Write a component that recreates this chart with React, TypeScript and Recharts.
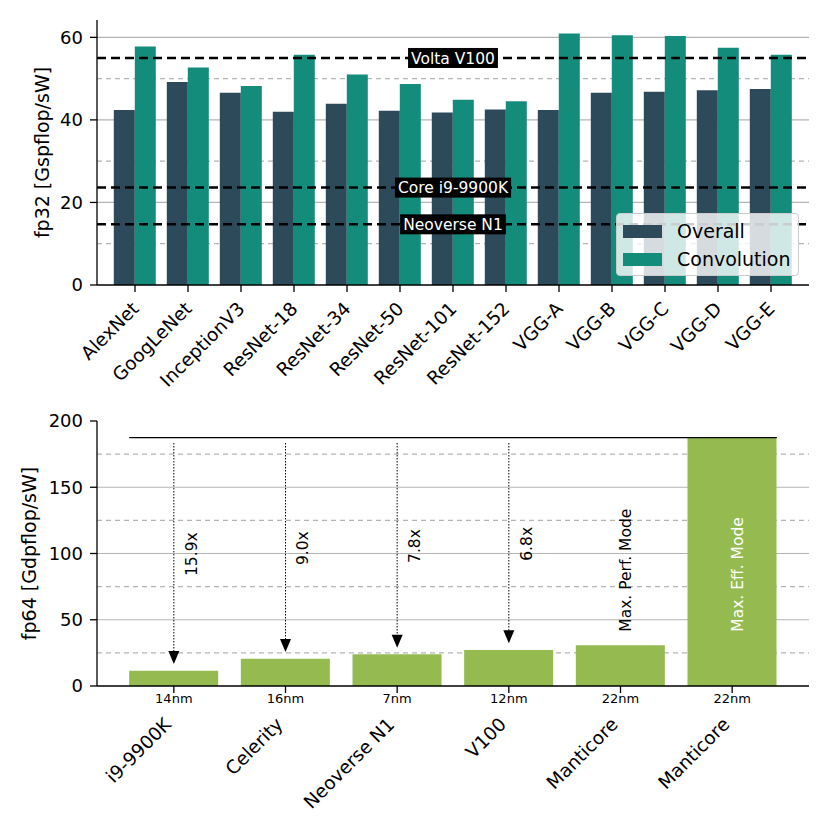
import React from 'react';
import {
  BarChart,
  Bar,
  XAxis,
  YAxis,
  CartesianGrid,
  ReferenceLine,
  ReferenceDot,
  Legend
} from 'recharts';

const FONT = '"DejaVu Sans", sans-serif';

// top panel: fp32 efficiency per network
const networks = ['AlexNet', 'GoogLeNet', 'InceptionV3', 'ResNet-18', 'ResNet-34', 'ResNet-50', 'ResNet-101', 'ResNet-152', 'VGG-A', 'VGG-B', 'VGG-C', 'VGG-D', 'VGG-E'];
const overall = [42.4, 49.2, 46.6, 42.0, 43.9, 42.2, 41.8, 42.5, 42.4, 46.6, 46.8, 47.2, 47.5];
const convolution = [57.8, 52.7, 48.2, 55.8, 51.0, 48.7, 44.9, 44.5, 60.9, 60.5, 60.3, 57.5, 55.8];
const fp32Ticks = [0, 20, 40, 60];
const fp32Minor = [10, 30, 50];
const refNames = ['Volta V100', 'Core i9-9900K', 'Neoverse N1'];
const refValues = [55.0, 23.6, 14.7];

// bottom panel: fp64 efficiency per chip
const chips = ['i9-9900K', 'Celerity', 'Neoverse N1', 'V100', 'Manticore', 'Manticore'];
const nodes = ['14nm', '16nm', '7nm', '12nm', '22nm', '22nm'];
const fp64 = [11.6, 20.6, 23.9, 27.2, 30.7, 187.4];
const speedups = ['15.9x', '9.0x', '7.8x', '6.8x'];
const modeLabels = ['Max. Perf. Mode', 'Max. Eff. Mode'];
const fp64Ticks = [0, 50, 100, 150, 200];
const fp64Minor = [25, 75, 125, 175];

const C_OVERALL = '#2d4a5a';
const C_CONV = '#148c7c';
const C_GREEN = '#94ba50';
const GRID = '#b4b4b4';

const fp32Data = networks.map((name, i) => ({ name, overall: overall[i], conv: convolution[i] }));
const fp64Data = chips.map((name, i) => ({ id: 'c' + i, name, value: fp64[i] }));
const fp64Max = Math.max(...fp64);

const measure = (s: string, font: string) => {
  const ctx = document.createElement('canvas').getContext('2d');
  if (!ctx) return s.length * 9;
  ctx.font = font;
  return ctx.measureText(s).width;
};

const RefLabel = (props: any) => {
  const { viewBox, text } = props;
  const cx = viewBox.x + viewBox.width / 2;
  const cy = viewBox.y;
  const w = measure(text, `15.5px ${FONT}`) + 6;
  return (
    <g>
      <rect x={cx - w / 2} y={cy - 10} width={w} height={20} fill="#000" />
      <text x={cx} y={cy} dy="0.36em" textAnchor="middle" fill="#fff" fontSize={15.5} fontFamily={FONT}>
        {text}
      </text>
    </g>
  );
};

const NetTick = (props: any) => {
  const { x, y, payload } = props;
  const ax = x - 1;
  const ay = y + 10;
  return (
    <text x={ax} y={ay} dy="0.45em" textAnchor="end" transform={`rotate(-45, ${ax}, ${ay})`} fontSize={18.5} fontFamily={FONT} fill="#000">
      {payload.value}
    </text>
  );
};

const ChipTick = (props: any) => {
  const { x, y, payload } = props;
  const i = Number(String(payload.value).slice(1));
  const ax = x - 11;
  const ay = y + 21;
  return (
    <g>
      <text x={x} y={y + 8} textAnchor="middle" fontSize={13} fontFamily={FONT} fill="#000">
        {nodes[i]}
      </text>
      <text x={ax} y={ay} dy="0.73em" textAnchor="end" transform={`rotate(-45, ${ax}, ${ay})`} fontSize={18.5} fontFamily={FONT} fill="#000">
        {chips[i]}
      </text>
    </g>
  );
};

const AxisTitle = (props: any) => {
  const { viewBox, text, dx } = props;
  const x = viewBox.x + dx;
  const y = viewBox.y + viewBox.height / 2;
  return (
    <text x={x} y={y} textAnchor="middle" transform={`rotate(-90, ${x}, ${y})`} fontSize={19} fontFamily={FONT} fill="#000">
      {text}
    </text>
  );
};

const LegendBox = () => (
  <div
    style={{
      width: 181,
      height: 61,
      background: 'rgba(255,255,255,0.8)',
      border: '1px solid #cccccc',
      borderRadius: 4,
      fontFamily: FONT,
      fontSize: 19,
      position: 'relative'
    }}
  >
    {[['Overall', C_OVERALL], ['Convolution', C_CONV]].map(([label, color], i) => (
      <div key={label} style={{ position: 'absolute', left: 6, top: 4 + i * 28, height: 26, display: 'flex', alignItems: 'center' }}>
        <div style={{ width: 39, height: 13, background: color, marginRight: 15 }} />
        <span>{label}</span>
      </div>
    ))}
  </div>
);

const CapLine = (p: any) => {
  const band = (p.x2 - p.x1) / (fp64.length - 1);
  const ext = band * 0.4;
  return <line x1={p.x1 - ext} y1={p.y1} x2={p.x2 + ext} y2={p.y2} stroke="#000" strokeWidth={1.2} />;
};

const ArrowHead = (p: any) => (
  <polygon points={`${p.cx - 5.5},${p.cy - 13} ${p.cx + 5.5},${p.cy - 13} ${p.cx},${p.cy}`} fill="#000" />
);

const tickStyle = { fontSize: 18, fill: '#000', fontFamily: FONT };
const spine = { stroke: '#000', strokeWidth: 1.3 };

export default function App() {
  const arrowFrom = fp64Max - 4;
  const tipGap = 5;
  const modeY = 41;
  return (
    <div style={{ position: 'absolute', left: 0, top: 0, width: 830, height: 830, background: '#fff' }}>
      <BarChart
        width={830}
        height={400}
        data={fp32Data}
        margin={{ top: 20, right: 21, bottom: 20, left: 37 }}
        barCategoryGap="10%"
        barGap={0}
      >
        <CartesianGrid horizontalValues={fp32Ticks.slice(1)} vertical={false} stroke={GRID} strokeWidth={1.2} />
        <CartesianGrid horizontalValues={fp32Minor} vertical={false} stroke={GRID} strokeWidth={1.2} strokeDasharray="5 4" />
        <XAxis
          dataKey="name"
          interval={0}
          height={95}
          padding={{ left: 11.5, right: 11.5 }}
          tickSize={7}
          tickLine={spine}
          axisLine={spine}
          tick={<NetTick />}
        />
        <XAxis xAxisId="top" orientation="top" dataKey="name" height={0} tick={false} tickLine={false} axisLine={spine} />
        <YAxis
          domain={[0, 64.2]}
          ticks={fp32Ticks}
          width={60}
          tickSize={7}
          tickMargin={7}
          tick={tickStyle}
          tickLine={spine}
          axisLine={spine}
          label={<AxisTitle text="fp32 [Gspflop/sW]" dx={12} />}
        />
        <YAxis yAxisId="right" orientation="right" width={0} tick={false} tickLine={false} axisLine={spine} />
        <Bar dataKey="overall" name="Overall" fill={C_OVERALL} isAnimationActive={false} />
        <Bar dataKey="conv" name="Convolution" fill={C_CONV} isAnimationActive={false} />
        {refNames.map((n, i) => (
          <ReferenceLine
            key={n}
            y={refValues[i]}
            stroke="#000"
            strokeWidth={2.5}
            strokeDasharray="9 5"
            label={<RefLabel text={n} />}
          />
        ))}
        <Legend
          layout="vertical"
          align="center"
          verticalAlign="middle"
          content={<LegendBox />}
          wrapperStyle={{ left: 616, top: 213, width: 183, height: 63 }}
        />
      </BarChart>

      <BarChart
        width={830}
        height={430}
        data={fp64Data}
        margin={{ top: 21, right: 21, bottom: 20, left: 37 }}
        barCategoryGap="10%"
      >
        <CartesianGrid horizontalValues={fp64Ticks.slice(1, -1)} vertical={false} stroke={GRID} strokeWidth={1.2} />
        <CartesianGrid horizontalValues={fp64Minor} vertical={false} stroke={GRID} strokeWidth={1.2} strokeDasharray="5 4" />
        <XAxis
          dataKey="id"
          interval={0}
          height={124}
          padding={{ left: 21, right: 21 }}
          tickSize={7}
          tickLine={spine}
          axisLine={spine}
          tick={<ChipTick />}
        />
        <XAxis xAxisId="top" orientation="top" dataKey="id" height={0} tick={false} tickLine={false} axisLine={spine} />
        <YAxis
          domain={[0, 200]}
          ticks={fp64Ticks}
          width={60}
          tickSize={7}
          tickMargin={7}
          tick={tickStyle}
          tickLine={spine}
          axisLine={spine}
          label={<AxisTitle text="fp64 [Gdpflop/sW]" dx={-1} />}
        />
        <YAxis yAxisId="right" orientation="right" width={0} tick={false} tickLine={false} axisLine={spine} />
        <Bar dataKey="value" fill={C_GREEN} isAnimationActive={false} />
        <ReferenceLine
          segment={[{ x: 'c0', y: fp64Max }, { x: 'c' + (fp64.length - 1), y: fp64Max }]}
          shape={<CapLine />}
        />
        {speedups.map((s, i) => (
          <ReferenceLine
            key={'l' + i}
            segment={[{ x: 'c' + i, y: arrowFrom }, { x: 'c' + i, y: fp64[i] + tipGap + 8 }]}
            stroke="#000"
            strokeWidth={1}
            strokeDasharray="1.5 1.5"
          />
        ))}
        {speedups.map((s, i) => (
          <ReferenceDot key={'h' + i} x={'c' + i} y={fp64[i] + tipGap} r={0} shape={<ArrowHead />} />
        ))}
        {speedups.map((s, i) => (
          <ReferenceDot
            key={'t' + i}
            x={'c' + i}
            y={(fp64Max + fp64[i]) / 2}
            r={0}
            shape={(p: any) => (
              <text
                x={p.cx + 23}
                y={p.cy}
                textAnchor="middle"
                transform={`rotate(-90, ${p.cx + 23}, ${p.cy})`}
                fontSize={15.5}
                fontFamily={FONT}
                fill="#000"
              >
                {s}
              </text>
            )}
          />
        ))}
        {modeLabels.map((m, k) => (
          <ReferenceDot
            key={'m' + k}
            x={'c' + (fp64.length - 2 + k)}
            y={modeY}
            r={0}
            shape={(p: any) => (
              <text
                x={p.cx + 11}
                y={p.cy}
                textAnchor="start"
                transform={`rotate(-90, ${p.cx + 11}, ${p.cy})`}
                fontSize={15.5}
                fontFamily={FONT}
                fill={k === 1 ? '#fff' : '#000'}
              >
                {m}
              </text>
            )}
          />
        ))}
      </BarChart>
    </div>
  );
}
